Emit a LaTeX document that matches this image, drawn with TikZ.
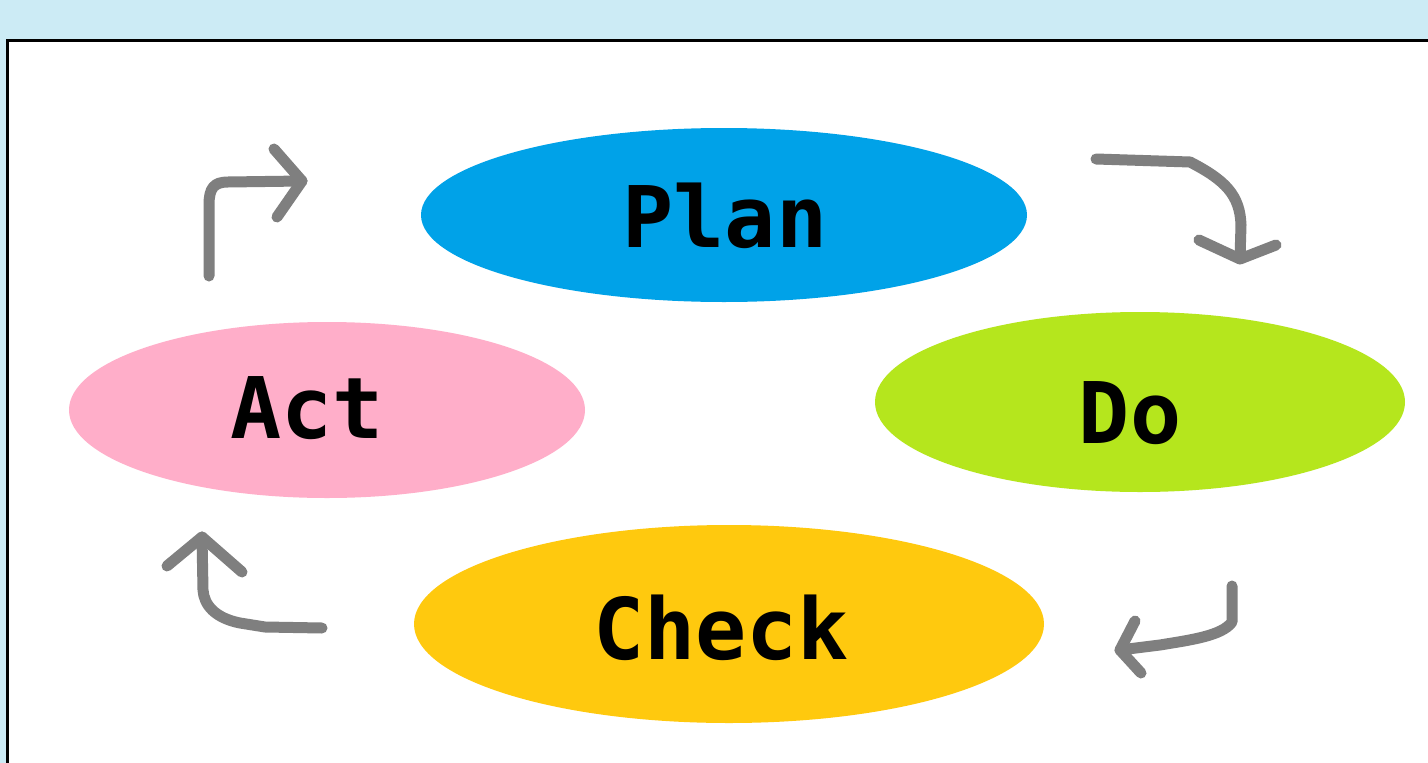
\documentclass[tikz,border=0pt]{standalone}
\usepackage{fontspec}
\newfontfamily\labelfont{DejaVu Sans Mono}
\definecolor{bgblue}{HTML}{CCEBF5}
\definecolor{planc}{HTML}{00A2E8}
\definecolor{doc}{HTML}{B5E61D}
\definecolor{actc}{HTML}{FFAEC9}
\definecolor{checkc}{HTML}{FFC90E}
\definecolor{arrowc}{HTML}{7F7F7F}
\tikzset{
  lbl/.style={font=\labelfont\bfseries\fontsize{85}{85}\selectfont, text=black, inner sep=0pt},
  flow/.style={draw=arrowc, line width=11pt, line cap=round, line join=round},
}
\usetikzlibrary{shapes.geometric}
\begin{document}
\begin{tikzpicture}[x=1pt,y=-1pt]
\fill[bgblue] (0,0) rectangle (1428,763);
\useasboundingbox (0,0) rectangle (1428,763);
\begin{scope}
\clip (0,0) rectangle (1428,763);
\filldraw[fill=white, draw=black, line width=3pt] (7.5,40) rectangle (1460,800);
\end{scope}
% ellipses
\fill[planc] (724,215) ellipse [x radius=303, y radius=87];
\fill[doc] (1140,402) ellipse [x radius=265, y radius=90];
\fill[actc] (327,410) ellipse [x radius=258, y radius=88];
\fill[checkc] (729,624) ellipse [x radius=315, y radius=99];
\node[lbl] (plan) at (725,216) {Plan};
\node[lbl] (do) at (1130,413) {Do};
\node[lbl] (act) at (307,408) {Act};
\node[lbl] (check) at (721,628) {Check};
% arrow 1 (Act -> Plan)
\coordinate (a1s) at (209,276);
\coordinate (a1t) at (302,181);
\draw[flow] (a1s) -- (209,205) .. controls (209,188) and (214,182) .. (228,182) -- (a1t);
\draw[flow] (274,149) -- (a1t) -- (277,217);
% arrow 2 (Plan -> Do)
\coordinate (a2s) at (1096,159);
\coordinate (a2t) at (1240,259);
\draw[flow] (a2s) -- (1190,162) .. controls (1225,180) and (1240,195) .. (1241,225) -- (a2t);
\draw[flow] (1199,240) -- (a2t) -- (1276,245);
% arrow 3 (Do -> Check)
\coordinate (a3s) at (1232,586);
\coordinate (a3t) at (1120,650);
\draw[flow] (a3s) -- (1232,622) .. controls (1222,636) and (1190,640) .. (1160,645) -- (a3t);
\draw[flow] (1135,621) -- (a3t) -- (1141,673);
% arrow 4 (Check -> Act)
\coordinate (a4s) at (322,628);
\coordinate (a4t) at (202,537);
\draw[flow] (a4s) -- (265,627) -- (240,623) .. controls (215,618) and (204,605) .. (203,590) -- (a4t);
\draw[flow] (167,566) -- (a4t) -- (242,572);
\end{tikzpicture}
\end{document}
